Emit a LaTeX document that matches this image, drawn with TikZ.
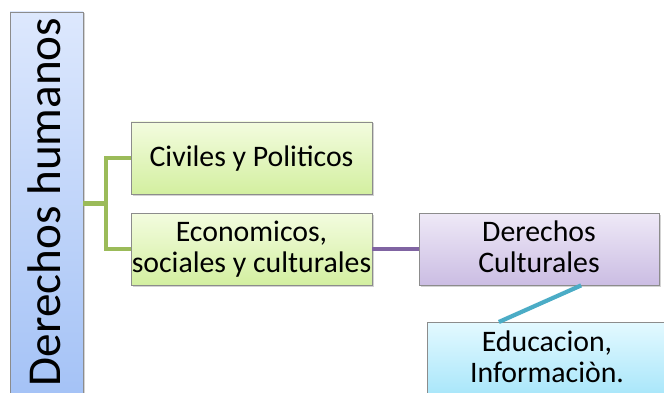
\documentclass[tikz,border=0pt]{standalone}
\usepackage{fontspec}
\setmainfont{Carlito}
\usetikzlibrary{calc,shadows}

\definecolor{frame}{HTML}{8C8C8C}
\definecolor{blueTop}{HTML}{DDE8FD}
\definecolor{blueBot}{HTML}{A4C2F6}
\definecolor{greenTop}{HTML}{F3FCDF}
\definecolor{greenBot}{HTML}{D3EFA0}
\definecolor{violetTop}{HTML}{EFE9F7}
\definecolor{violetBot}{HTML}{CBBDE3}
\definecolor{cyanTop}{HTML}{E3F9FF}
\definecolor{cyanBot}{HTML}{A8E6FA}
\definecolor{greenLink}{HTML}{9BBB59}
\definecolor{violetLink}{HTML}{8064A2}
\definecolor{cyanLink}{HTML}{4BACC6}

\tikzset{
  box/.style={draw=frame, line width=0.8pt, inner sep=0pt,
    minimum width=241pt, minimum height=72pt, align=center,
    font=\fontsize{29.8}{31}\selectfont, text height=46pt, text depth=0pt,
    drop shadow={shadow xshift=1.5pt, shadow yshift=-1.5pt, opacity=0.35}},
  oneline/.style={text height=20pt, text depth=2pt},
  greenbox/.style={box, top color=greenTop, bottom color=greenBot},
  violetbox/.style={box, top color=violetTop, bottom color=violetBot},
  cyanbox/.style={box, top color=cyanTop, bottom color=cyanBot},
  link/.style={line width=4.2pt},
}

\begin{document}
\begin{tikzpicture}[x=1pt, y=-1pt]
  \useasboundingbox (0,0) rectangle (664,393);

  % Main box
  \node[draw=frame, line width=0.8pt, top color=blueTop, bottom color=blueBot,
    minimum width=73pt, minimum height=385pt, inner sep=0pt,
    drop shadow={shadow xshift=1.5pt, shadow yshift=-1.5pt, opacity=0.35}]
    (dh) at (46.5,204.5) {};
  \node[rotate=90, font=\fontsize{47.2}{50}\selectfont] (dhtext) at (44,202) {Derechos humanos};

  % Children
  \node[greenbox, oneline] (civ) at (251.5,158) {Civiles y Politicos};
  \node[greenbox] (eco) at (251.5,249) {Economicos,\\sociales y culturales};
  \node[violetbox, minimum width=240pt] (cul) at (539,249) {Derechos\\Culturales};
  \node[cyanbox, anchor=north, minimum width=240pt, minimum height=73.4pt] (edu) at (547,322) {Educacion,\\Informaciòn.};

  % Links
  \coordinate (fork) at ($(civ.west)!0.5!(eco.west)+(-25,0)$);
  \draw[link, greenLink] (dh.east |- fork) -- (fork);
  \draw[link, greenLink] (civ.west) -| (fork) |- (eco.west);
  \draw[link, violetLink] (eco.east) -- (cul.west);
  \draw[link, cyanLink] ($(cul.south)!0.35!(cul.south east)$) -- ($(edu.north)!0.4!(edu.north west)$);

\end{tikzpicture}
\end{document}
